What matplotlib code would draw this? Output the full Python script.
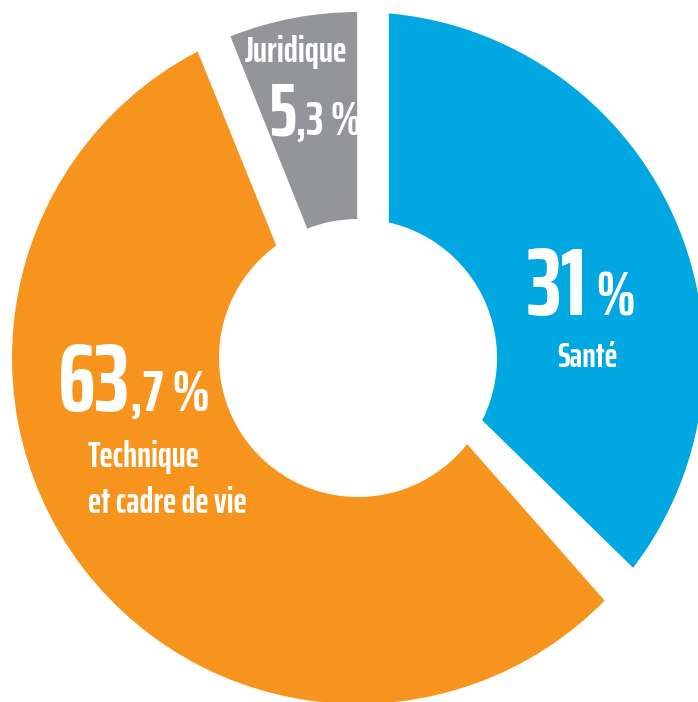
import numpy as np
import matplotlib
matplotlib.use('Agg')
import matplotlib.pyplot as plt
from matplotlib import font_manager
from matplotlib.patches import Polygon

# ---- data ----
categories = ['Santé', 'Technique\net cadre de vie', 'Juridique']
values_pct = [31.0, 63.7, 5.3]
# angular shares of the slices as drawn in the picture (not to scale with values)
drawn_share = [35.4, 58.55, 6.05]
colors = ['#00A7E1', '#F7941D', '#939598']

# ---- font ----
avail = {f.name for f in font_manager.fontManager.ttflist}
FONT = 'DejaVu Sans'
for cand in ['Saira ExtraCondensed', 'Barlow Condensed', 'Roboto Condensed']:
    if cand in avail:
        FONT = cand
        break
plt.rcParams['font.family'] = [FONT, 'DejaVu Sans']

W, H = 698, 702
fig = plt.figure(figsize=(W / 100, H / 100), dpi=100)
ax = fig.add_axes([0, 0, 1, 1])

C = (358, H - 358)
R_OUT, R_IN = 346, 139

wedges, _ = ax.pie(drawn_share, colors=colors, startangle=90, counterclock=False,
                   radius=R_OUT, center=C, frame=True,
                   wedgeprops=dict(width=R_OUT - R_IN, linewidth=0))

# gaps between slices: each gap bounded by two lines (angle deg, perpendicular offset px)
b_gray_blue = wedges[0].theta2
b_orange_gray = wedges[2].theta2 + 360
gaps = [
    [(b_gray_blue, 0.0), (b_gray_blue, 30.0)],
    [(-44.36, -41.5), (-48.7, -26.0)],
    [(b_orange_gray, 0.0), (b_orange_gray + 0.3, -32.6)],
]


def pt(phi, off, t):
    a = np.deg2rad(phi)
    return (C[0] + t * np.cos(a) + off * np.sin(a),
            C[1] + t * np.sin(a) - off * np.cos(a))


T = 430
for (p1, o1), (p2, o2) in gaps:
    poly = [pt(p1, o1, 0), pt(p1, o1, T), pt(p2, o2, T), pt(p2, o2, 0)]
    ax.add_patch(Polygon(poly, closed=True, facecolor='white', edgecolor='white',
                         linewidth=1.2, zorder=5))

ax.set_xlim(0, W)
ax.set_ylim(0, H)
ax.set_aspect('equal')
ax.axis('off')


def pct_parts(v):
    ip = int(v)
    d = round((v - ip) * 10)
    small = (',%d %%' % d) if d else ' %'
    return str(ip), small


tk = dict(color='white', fontweight='bold', zorder=10, va='baseline')

# Santé (blue)
big, small = pct_parts(values_pct[0])
ax.text(587, H - 315, big, ha='right', fontsize=69, **tk)
ax.text(587, H - 315, small, ha='left', fontsize=44, **tk)
ax.text(587.5, H - 367, categories[0], ha='center', fontsize=24.7, **tk)

# Technique et cadre de vie (orange)
big, small = pct_parts(values_pct[1])
ax.text(130, H - 411, big, ha='right', fontsize=69, **tk)
ax.text(130, H - 411, small, ha='left', fontsize=42, **tk)
for i, line in enumerate(categories[1].split('\n')):
    ax.text(88, H - 467 - 46 * i, line, ha='left', fontsize=25.7, **tk)

# Juridique (gray)
big, small = pct_parts(values_pct[2])
ax.text(296, H - 135, big, ha='right', fontsize=53.5, **tk)
ax.text(296, H - 135, small, ha='left', fontsize=34, **tk)
ax.text(296, H - 62, categories[2], ha='center', fontsize=26.2, **tk)

fig.savefig('out.png', dpi=100)
